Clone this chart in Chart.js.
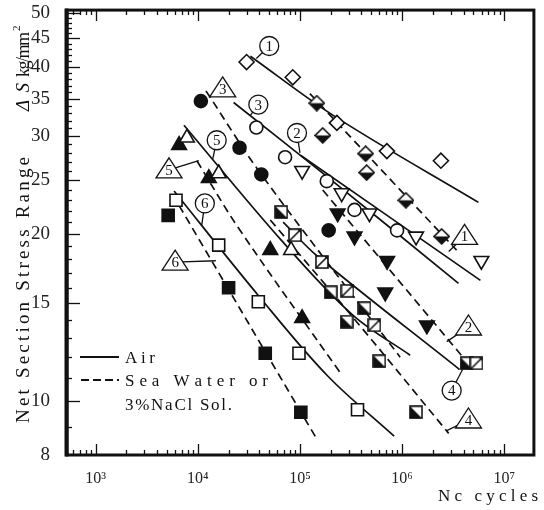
<!DOCTYPE html>
<html>
<head>
<meta charset="utf-8">
<script src="https://cdn.jsdelivr.net/npm/chart.js@4.4.1/dist/chart.umd.min.js"></script>
<style>
  html, body { margin: 0; padding: 0; background: #fff; }
  #wrap { width: 544px; height: 510px; }
</style>
</head>
<body>
<div id="wrap"><canvas id="chart" width="544" height="510"></canvas></div>
<script>
// tick values
const xTickValues = [1e3, 1e4, 1e5, 1e6, 1e7];
const yTickValues = [8, 10, 15, 20, 25, 30, 35, 40, 45, 50];

// specimen 1 : open diamonds (air), half filled diamonds (sea water)
const air1 = [[3.0e4, 40.8], [8.5e4, 38.3], [2.3e5, 31.7], [7.1e5, 28.2], [2.4e6, 27.1]];
const sea1 = [[1.46e5, 34.4], [1.67e5, 30.1], [4.4e5, 27.9], [4.5e5, 25.8], [1.09e6, 23.0], [2.44e6, 19.8]];
const airCurve1 = [[3.27e4, 41.8], [2.29e5, 32.4], [5.6e6, 22.8]];
const seaCurve1 = [[1.25e5, 35.8], [3.42e6, 18.7]];

// specimen 2 : open / filled down triangles
const air2 = [[1.05e5, 26.0], [2.56e5, 23.7], [4.79e5, 21.8], [1.37e6, 19.8], [5.98e6, 17.9]];
const sea2 = [[2.34e5, 21.8], [3.42e5, 19.8], [7.14e5, 17.9], [6.84e5, 15.7], [1.75e6, 13.7]];
const airCurve2 = [[1.02e5, 27.7], [5.85e6, 16.5]];
const seaCurve2 = [[1.67e5, 24.0], [4.79e6, 11.5]];

// specimen 3 : open / filled circles
const air3 = [[3.74e4, 31.1], [7.15e4, 27.5], [1.83e5, 24.9], [3.42e5, 22.1], [8.93e5, 20.3]];
const sea3 = [[1.07e4, 34.7], [2.56e4, 28.6], [4.18e4, 25.6], [1.91e5, 20.3]];
const airCurve3 = [[2.24e4, 34.5], [1.83e5, 25.4], [3.57e6, 16.3]];
const seaCurve3 = [[1.2e4, 36.2], [4.18e4, 25.6], [9.57e5, 12.0]];

// specimen 4 : squares with diagonal
const air4 = [[8.93e4, 19.9], [1.64e5, 17.8], [2.92e5, 15.8], [5.35e5, 13.7], [5.35e6, 11.7]];
const sea4 = [[6.55e4, 21.9], [2.0e5, 15.7], [2.86e5, 13.9], [4.28e5, 14.7], [5.98e5, 11.8], [1.37e6, 9.55], [4.28e6, 11.7]];
const airCurve4 = [[6.84e4, 21.0], [1.5e5, 18.2], [3.66e6, 11.4]];
const seaCurve4 = [[5.12e4, 21.2], [3.83e5, 13.7], [2.86e6, 8.75]];

// specimen 5 : open / filled triangles
const air5 = [[7.82e3, 29.8], [1.6e4, 25.7], [8.19e4, 18.7]];
const sea5 = [[6.55e3, 28.9], [1.28e4, 25.2], [5.12e4, 18.7], [1.05e5, 14.1]];
const airCurve5 = [[7.31e3, 31.4], [6.55e4, 19.5], [3.27e5, 14.3], [1.2e6, 12.1]];
const seaCurve5 = [[9.77e3, 27.1], [2.5e4, 20.5], [2.61e5, 11.1]];

// specimen 6 : open / filled squares
const air6 = [[6.11e3, 23.0], [1.6e4, 19.1], [3.91e4, 15.1], [9.78e4, 12.2], [3.66e5, 9.65]];
const sea6 = [[5.12e3, 21.6], [2.0e4, 16.0], [4.57e4, 12.2], [1.02e5, 9.55]];
const airCurve6 = [[5.85e3, 23.9], [3.91e4, 15.5], [1.87e5, 11.1], [8.36e5, 8.65]];
const seaCurve6 = [[6.55e3, 22.5], [1.46e5, 8.55]];

// curve tags: number, tag position, leader end
const circleTags = [
  ['1', 5.0e4, 43.6, 3.74e4, 41.4],
  ['2', 9.35e4, 30.4, 1.0e5, 28.0],
  ['3', 3.91e4, 34.2, 3.27e4, 32.7],
  ['4', 3.06e6, 10.45, 3.91e6, 11.4],
  ['5', 1.53e4, 29.5, 1.4e4, 27.3],
  ['6', 1.17e4, 22.7, 1.09e4, 20.7]
];
const triangleTags = [
  ['1', 4.09e6, 19.8, 2.86e6, 18.6],
  ['2', 4.47e6, 13.6, 2.74e6, 12.8],
  ['3', 1.75e4, 36.5, null, null],
  ['4', 4.47e6, 9.25, 2.74e6, 8.85],
  ['5', 5.22e3, 26.1, 1.02e4, 27.1],
  ['6', 5.99e3, 17.8, 1.5e4, 17.9]
];

const INK = '#111';
const SERIF = '"Liberation Serif", "DejaVu Serif", serif';
const supers = { 3: '\u00B3', 4: '\u2074', 5: '\u2075', 6: '\u2076', 7: '\u2077' };

function pts(a) {
  return a.map(p => ({ x: p[0], y: p[1] }));
}

function makeMarker(size, draw) {
  const c = document.createElement('canvas');
  c.width = size;
  c.height = size;
  const g = c.getContext('2d');
  g.lineWidth = 1.6;
  g.strokeStyle = INK;
  draw(g, size);
  return c;
}

// diamond, lower half black
const halfDiamond = makeMarker(17, (g, s) => {
  const m = s / 2;
  g.beginPath();
  g.moveTo(m, 1); g.lineTo(s - 1, m); g.lineTo(m, s - 1); g.lineTo(1, m); g.closePath();
  g.fillStyle = '#fff'; g.fill();
  g.beginPath();
  g.moveTo(1, m); g.lineTo(s - 1, m); g.lineTo(m, s - 1); g.closePath();
  g.fillStyle = INK; g.fill();
  g.beginPath();
  g.moveTo(m, 1); g.lineTo(s - 1, m); g.lineTo(m, s - 1); g.lineTo(1, m); g.closePath();
  g.stroke();
});

// square, lower left half black
const halfSquare = makeMarker(14, (g, s) => {
  g.fillStyle = '#fff';
  g.fillRect(1, 1, s - 2, s - 2);
  g.beginPath();
  g.moveTo(1, 1); g.lineTo(1, s - 1); g.lineTo(s - 1, s - 1); g.closePath();
  g.fillStyle = INK; g.fill();
  g.strokeRect(1, 1, s - 2, s - 2);
});

// open square with one diagonal
const diagSquare = makeMarker(14, (g, s) => {
  g.fillStyle = '#fff';
  g.fillRect(1, 1, s - 2, s - 2);
  g.strokeRect(1, 1, s - 2, s - 2);
  g.beginPath();
  g.moveTo(1, s - 1); g.lineTo(s - 1, 1);
  g.stroke();
  g.beginPath();
  g.moveTo(s - 1, 1); g.lineTo(s - 1, 5); g.lineTo(s - 5, 1); g.closePath();
  g.fillStyle = INK; g.fill();
});

function marks(data, style, fill, radius, extra) {
  return Object.assign({
    data: pts(data),
    showLine: false,
    pointStyle: style,
    pointRadius: radius,
    pointHoverRadius: radius,
    pointBackgroundColor: fill,
    pointBorderColor: INK,
    pointBorderWidth: 1.6,
    order: 0
  }, extra || {});
}

function curve(data, dashed) {
  return {
    data: pts(data),
    showLine: true,
    borderColor: INK,
    borderWidth: 1.7,
    borderDash: dashed ? [8, 5] : [],
    pointRadius: 0,
    pointHoverRadius: 0,
    tension: 0.35,
    fill: false,
    order: 1
  };
}

function spacedText(ctx, text, x, y, width) {
  const chars = Array.from(text);
  const widths = chars.map(c => ctx.measureText(c).width);
  const total = widths.reduce((s, w) => s + w, 0);
  const gap = chars.length > 1 ? (width - total) / (chars.length - 1) : 0;
  let cx = x;
  chars.forEach((c, i) => {
    ctx.fillText(c, cx, y);
    cx += widths[i] + gap;
  });
}

const decor = {
  id: 'decor',
  afterDatasetsDraw(chart) {
    const ctx = chart.ctx;
    const xs = chart.scales.x, ys = chart.scales.y;
    ctx.save();
    ctx.strokeStyle = INK;
    ctx.fillStyle = INK;
    ctx.lineWidth = 1.3;

    // leaders first
    circleTags.concat(triangleTags).forEach(t => {
      if (t[3] === null) return;
      ctx.beginPath();
      ctx.moveTo(xs.getPixelForValue(t[1]), ys.getPixelForValue(t[2]));
      ctx.lineTo(xs.getPixelForValue(t[3]), ys.getPixelForValue(t[4]));
      ctx.stroke();
    });

    ctx.textAlign = 'center';
    ctx.textBaseline = 'middle';

    circleTags.forEach(t => {
      const px = xs.getPixelForValue(t[1]), py = ys.getPixelForValue(t[2]);
      ctx.beginPath();
      ctx.arc(px, py, 9.5, 0, Math.PI * 2);
      ctx.fillStyle = '#fff';
      ctx.fill();
      ctx.stroke();
      ctx.fillStyle = INK;
      ctx.font = '15px ' + SERIF;
      ctx.fillText(t[0], px, py + 1);
    });

    triangleTags.forEach(t => {
      const px = xs.getPixelForValue(t[1]), py = ys.getPixelForValue(t[2]);
      ctx.beginPath();
      ctx.moveTo(px, py - 12);
      ctx.lineTo(px + 13, py + 8);
      ctx.lineTo(px - 13, py + 8);
      ctx.closePath();
      ctx.fillStyle = '#fff';
      ctx.fill();
      ctx.stroke();
      ctx.fillStyle = INK;
      ctx.font = '15px ' + SERIF;
      ctx.fillText(t[0], px, py + 1);
    });
    ctx.restore();
  },
  afterDraw(chart) {
    const ctx = chart.ctx, a = chart.chartArea;
    const xs = chart.scales.x, ys = chart.scales.y;
    ctx.save();
    ctx.strokeStyle = INK;
    ctx.fillStyle = INK;

    // inward tick marks
    ctx.lineWidth = 1.3;
    for (let v = 9; v <= 50; v++) {
      const py = Math.round(ys.getPixelForValue(v)) + 0.5;
      const len = yTickValues.includes(v) ? 13 : 5;
      ctx.beginPath();
      ctx.moveTo(a.left, py);
      ctx.lineTo(a.left + len, py);
      ctx.stroke();
    }
    for (let d = 100; d <= 1e7; d *= 10) {
      for (let k = 1; k <= 9; k++) {
        const v = k * d;
        if (v < xs.min || v > xs.max) continue;
        const px = Math.round(xs.getPixelForValue(v)) + 0.5;
        const len = k === 1 ? 11 : 5;
        ctx.beginPath();
        ctx.moveTo(px, a.bottom);
        ctx.lineTo(px, a.bottom - len);
        ctx.moveTo(px, a.top);
        ctx.lineTo(px, a.top + len);
        ctx.stroke();
      }
    }

    // frame
    ctx.lineWidth = 3;
    ctx.strokeRect(a.left, a.top, a.right - a.left, a.bottom - a.top);
    ctx.lineWidth = 4;
    ctx.beginPath();
    ctx.moveTo(a.left - 0.5, a.top - 1.5);
    ctx.lineTo(a.left - 0.5, a.bottom + 1.5);
    ctx.stroke();

    // y axis title
    ctx.save();
    ctx.translate(29, 423);
    ctx.rotate(-Math.PI / 2);
    ctx.textAlign = 'left';
    ctx.textBaseline = 'alphabetic';
    ctx.font = '19px ' + SERIF;
    spacedText(ctx, 'Net Section Stress Range', 0, 0, 266);
    ctx.font = 'italic 19px ' + SERIF;
    spacedText(ctx, '\u0394S', 312, 0, 28);
    ctx.font = '18px ' + SERIF;
    spacedText(ctx, 'kg/mm', 346, 0, 45);
    ctx.font = '11px ' + SERIF;
    ctx.fillText('2', 392, -9);
    ctx.restore();

    // x axis title
    ctx.textAlign = 'left';
    ctx.textBaseline = 'alphabetic';
    ctx.font = '17px ' + SERIF;
    spacedText(ctx, 'Nc cycles', 438, 501, 100);

    // legend
    ctx.lineWidth = 1.8;
    ctx.beginPath();
    ctx.moveTo(80, 357);
    ctx.lineTo(119, 357);
    ctx.stroke();
    ctx.setLineDash([8, 4]);
    ctx.beginPath();
    ctx.moveTo(81, 380);
    ctx.lineTo(119, 380);
    ctx.stroke();
    ctx.setLineDash([]);
    ctx.font = '17px ' + SERIF;
    spacedText(ctx, 'Air', 125, 363, 30);
    spacedText(ctx, 'Sea Water or', 125, 386, 143);
    spacedText(ctx, '3%NaCl Sol.', 125, 410, 107);
    ctx.restore();
  }
};

new Chart(document.getElementById('chart'), {
  type: 'scatter',
  data: {
    datasets: [
      marks(air1, 'rectRot', '#fff', 7.5),
      marks(sea1, halfDiamond, '#fff', 7.5),
      marks(air2, 'triangle', '#fff', 8.5, { pointRotation: 180 }),
      marks(sea2, 'triangle', INK, 8.5, { pointRotation: 180 }),
      marks(air3, 'circle', '#fff', 6.5),
      marks(sea3, 'circle', INK, 6.5),
      marks(air4, diagSquare, '#fff', 7),
      marks(sea4, halfSquare, '#fff', 7),
      marks(air5, 'triangle', '#fff', 8.5),
      marks(sea5, 'triangle', INK, 8.5),
      marks(air6, 'rect', '#fff', 8.5),
      marks(sea6, 'rect', INK, 8.5),
      curve(airCurve1, false), curve(seaCurve1, true),
      curve(airCurve2, false), curve(seaCurve2, true),
      curve(airCurve3, false), curve(seaCurve3, true),
      curve(airCurve4, false), curve(seaCurve4, true),
      curve(airCurve5, false), curve(seaCurve5, true),
      curve(airCurve6, false), curve(seaCurve6, true)
    ]
  },
  options: {
    responsive: false,
    animation: false,
    devicePixelRatio: 1,
    layout: { padding: { top: 8, right: 6, left: 0, bottom: 0 } },
    plugins: { legend: { display: false }, tooltip: { enabled: false } },
    scales: {
      x: {
        type: 'logarithmic',
        min: 523,
        max: 1.954e7,
        afterBuildTicks: s => { s.ticks = xTickValues.map(v => ({ value: v })); },
        afterFit: s => { s.height = 55; s.paddingLeft = 0; s.paddingRight = 0; },
        grid: { display: false },
        border: { display: false },
        ticks: {
          autoSkip: false,
          maxRotation: 0,
          padding: 6,
          color: '#222',
          font: { family: SERIF, size: 16 },
          callback: v => '10' + supers[Math.round(Math.log10(v))]
        }
      },
      y: {
        type: 'logarithmic',
        min: 8,
        max: 50.6,
        afterBuildTicks: s => { s.ticks = yTickValues.map(v => ({ value: v })); },
        afterFit: s => { s.width = 67; s.paddingTop = 0; s.paddingBottom = 0; },
        grid: { display: false },
        border: { display: false },
        ticks: {
          autoSkip: false,
          padding: 9,
          color: '#222',
          font: { family: SERIF, size: 19 },
          callback: v => String(v)
        }
      }
    }
  },
  plugins: [decor]
});
</script>
</body>
</html>
